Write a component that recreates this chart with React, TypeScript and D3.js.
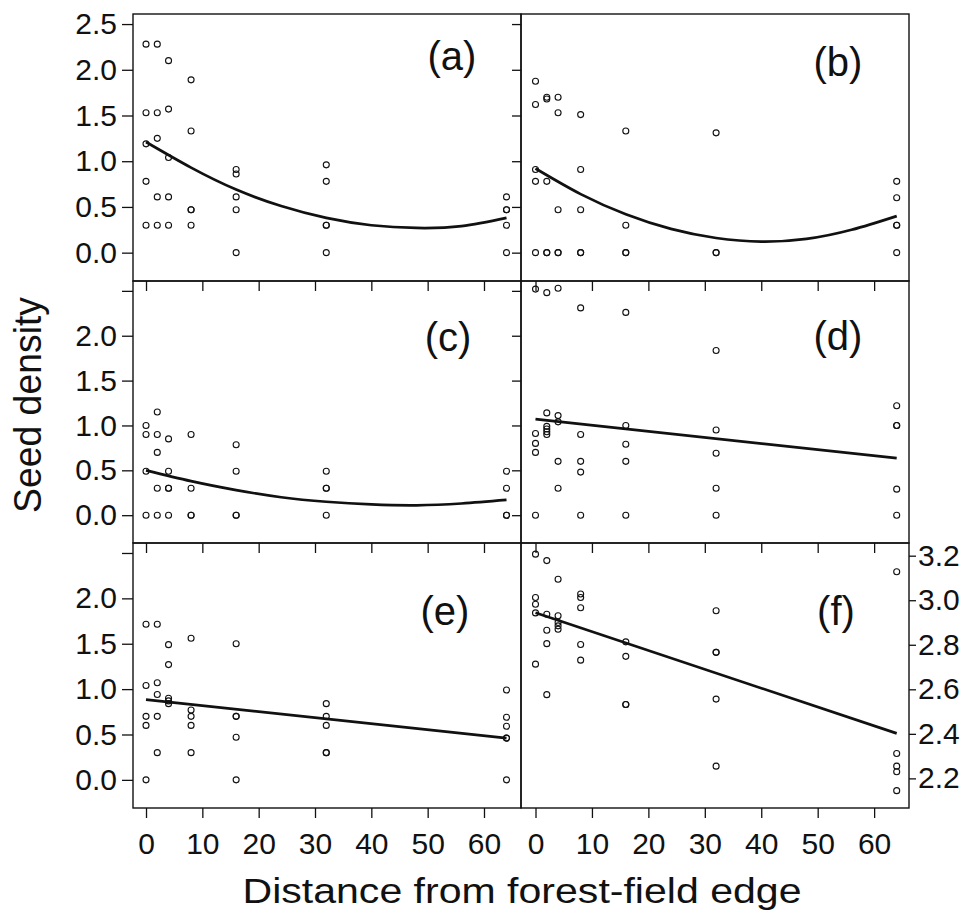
import React, { useEffect, useRef } from "react";
import * as d3 from "d3";

// distance (m) vs seed density
const ptsA: [number, number][] = [
  [0, 2.28], [0, 1.53], [0, 1.19], [0, 0.78], [0, 0.3],
  [2, 2.28], [2, 1.53], [2, 1.25], [2, 0.61], [2, 0.3],
  [4, 2.1], [4, 1.57], [4, 1.04], [4, 0.61], [4, 0.3],
  [8, 1.89], [8, 1.33], [8, 0.47], [8, 0.47], [8, 0.3],
  [16, 0.91], [16, 0.86], [16, 0.61], [16, 0.47], [16, 0],
  [32, 0.96], [32, 0.78], [32, 0.3], [32, 0.3], [32, 0],
  [64, 0.61], [64, 0.47], [64, 0.47], [64, 0.3], [64, 0],
];
const ptsB: [number, number][] = [
  [0, 1.875], [0, 1.62], [0, 0.91], [0, 0.78], [0, 0],
  [2, 1.7], [2, 1.68], [2, 0.78], [2, 0], [2, 0],
  [4, 1.7], [4, 1.53], [4, 0.47], [4, 0], [4, 0],
  [8, 1.51], [8, 0.91], [8, 0.47], [8, 0], [8, 0],
  [16, 1.33], [16, 0.3], [16, 0], [16, 0],
  [32, 1.31], [32, 0], [32, 0],
  [64, 0.78], [64, 0.6], [64, 0.3], [64, 0.3], [64, 0],
];
const ptsC: [number, number][] = [
  [0, 1.0], [0, 0.9], [0, 0.49], [0, 0],
  [2, 1.15], [2, 0.9], [2, 0.7], [2, 0.3], [2, 0],
  [4, 0.85], [4, 0.49], [4, 0.3], [4, 0.3], [4, 0],
  [8, 0.9], [8, 0.3], [8, 0], [8, 0],
  [16, 0.785], [16, 0.49], [16, 0], [16, 0],
  [32, 0.49], [32, 0.3], [32, 0.3], [32, 0],
  [64, 0.49], [64, 0.3], [64, 0], [64, 0],
];
const ptsD: [number, number][] = [
  [0, 2.52], [0, 0.91], [0, 0.8], [0, 0.7], [0, 0],
  [2, 2.48], [2, 1.14], [2, 0.99], [2, 0.96], [2, 0.93], [2, 0.9],
  [4, 2.53], [4, 1.11], [4, 1.04], [4, 0.6], [4, 0.3],
  [8, 2.31], [8, 0.9], [8, 0.6], [8, 0.48], [8, 0],
  [16, 2.26], [16, 1.0], [16, 0.79], [16, 0.6], [16, 0],
  [32, 1.835], [32, 0.95], [32, 0.69], [32, 0.3], [32, 0],
  [64, 1.22], [64, 1.0], [64, 1.0], [64, 0.29], [64, 0],
];
const ptsE: [number, number][] = [
  [0, 1.715], [0, 1.04], [0, 0.7], [0, 0.6], [0, 0],
  [2, 1.715], [2, 1.07], [2, 0.94], [2, 0.7], [2, 0.3],
  [4, 1.49], [4, 1.27], [4, 0.9], [4, 0.87], [4, 0.84],
  [8, 1.56], [8, 0.77], [8, 0.7], [8, 0.6], [8, 0.3],
  [16, 1.5], [16, 0.7], [16, 0.7], [16, 0.47], [16, 0],
  [32, 0.84], [32, 0.7], [32, 0.6], [32, 0.3], [32, 0.3],
  [64, 0.99], [64, 0.69], [64, 0.59], [64, 0.46], [64, 0.46], [64, 0],
];
const ptsF: [number, number][] = [
  [0, 3.207], [0, 3.012], [0, 2.982], [0, 2.943], [0, 2.713],
  [2, 3.178], [2, 2.937], [2, 2.865], [2, 2.805], [2, 2.576],
  [4, 3.094], [4, 2.93], [4, 2.9], [4, 2.885], [4, 2.87],
  [8, 3.028], [8, 3.012], [8, 2.966], [8, 2.801], [8, 2.731],
  [16, 2.813], [16, 2.748], [16, 2.532], [16, 2.532],
  [32, 2.953], [32, 2.766], [32, 2.766], [32, 2.556], [32, 2.255],
  [64, 3.128], [64, 2.312], [64, 2.255], [64, 2.23], [64, 2.145],
];

// fitted curves, read at a few distances
const fitA: [number, number][] = [[0, 1.21], [8, 0.93], [16, 0.69], [24, 0.51], [32, 0.38], [40, 0.3], [48, 0.27], [56, 0.29], [64, 0.38]];
const fitB: [number, number][] = [[0, 0.92], [8, 0.64], [16, 0.42], [24, 0.26], [32, 0.16], [40, 0.12], [48, 0.15], [56, 0.25], [64, 0.4]];
const fitC: [number, number][] = [[0, 0.5], [8, 0.38], [16, 0.28], [24, 0.2], [32, 0.15], [40, 0.12], [48, 0.11], [56, 0.13], [64, 0.17]];
const fitD: [number, number][] = [[0, 1.07], [64, 0.635]];
const fitE: [number, number][] = [[0, 0.885], [64, 0.46]];
const fitF: [number, number][] = [[0, 2.944], [64, 2.402]];

const xTicks = [0, 10, 20, 30, 40, 50, 60];
const yTicksFull = [0, 0.5, 1, 1.5, 2, 2.5];
const yLabelsTop = [0, 0.5, 1, 1.5, 2, 2.5];
const yLabelsLow = [0, 0.5, 1, 1.5, 2];
const yTicksF = [2.2, 2.4, 2.6, 2.8, 3.0, 3.2];

const font = "'Liberation Sans', Arial, Helvetica, sans-serif";

function App() {
  const ref = useRef<SVGSVGElement>(null);

  useEffect(() => {
    const svg = d3.select(ref.current);
    svg.selectAll("*").remove();

    const cols = [
      { x0: 133, x1: 521, dom: [-2.31, 66.57] },
      { x0: 521, x1: 909, dom: [-2.57, 66.18] },
    ];
    const rows = [
      { y0: 14, y1: 281 },
      { y0: 281, y1: 543 },
      { y0: 543, y1: 808 },
    ];

    const panels = [
      { pts: ptsA, fit: fitA, lab: "(a)", c: 0, r: 0, lx: 452, ly: 70, curved: true },
      { pts: ptsB, fit: fitB, lab: "(b)", c: 1, r: 0, lx: 838, ly: 76, curved: true },
      { pts: ptsC, fit: fitC, lab: "(c)", c: 0, r: 1, lx: 448, ly: 351, curved: true },
      { pts: ptsD, fit: fitD, lab: "(d)", c: 1, r: 1, lx: 838, ly: 350, curved: false },
      { pts: ptsE, fit: fitE, lab: "(e)", c: 0, r: 2, lx: 445, ly: 625, curved: false },
      { pts: ptsF, fit: fitF, lab: "(f)", c: 1, r: 2, lx: 836, ly: 625, curved: false },
    ];

    panels.forEach((p, idx) => {
      const col = cols[p.c];
      const row = rows[p.r];
      const x = d3.scaleLinear().domain(col.dom).range([col.x0, col.x1]);
      const yDom = idx === 5 ? [2.067, 3.257] : [-0.31, 2.61];
      const y = d3.scaleLinear().domain(yDom).range([row.y1, row.y0]);

      const g = svg.append("g");

      // y axis
      if (idx === 5) {
        const ax = d3.axisRight(y).tickValues(yTicksF).tickSize(7).tickPadding(2)
          .tickFormat(d3.format(".1f"));
        g.append("g").attr("transform", `translate(${col.x1},0)`).call(ax);
      } else if (p.c === 0) {
        const labs = p.r === 0 ? yLabelsTop : yLabelsLow;
        const ax = d3.axisLeft(y).tickValues(yTicksFull).tickSize(11).tickPadding(5)
          .tickFormat((d) => (labs.includes(d as number) ? d3.format(".1f")(d as number) : ""));
        g.append("g").attr("transform", `translate(${col.x0},0)`).call(ax);
      } else {
        const ax = d3.axisLeft(y).tickValues(yTicksFull).tickSize(9).tickFormat(() => "");
        g.append("g").attr("transform", `translate(${col.x0},0)`).call(ax);
      }

      // x ticks: inner ones hang down from the row's top edge, last row gets labels
      if (p.r > 0) {
        const ax = d3.axisBottom(x).tickValues(xTicks).tickSize(10).tickFormat(() => "");
        g.append("g").attr("transform", `translate(0,${row.y0})`).call(ax);
      }
      if (p.r === 2) {
        const ax = d3.axisBottom(x).tickValues(xTicks).tickSize(10).tickPadding(15);
        g.append("g").attr("transform", `translate(0,${row.y1})`).call(ax);
      }

      g.selectAll(".domain").remove();
      g.selectAll(".tick line").attr("stroke", "#111").attr("stroke-width", 1.3);
      g.selectAll(".tick text")
        .attr("fill", "#111")
        .style("font-family", font)
        .style("font-size", "30px");

      g.append("rect")
        .attr("x", col.x0).attr("y", row.y0)
        .attr("width", col.x1 - col.x0).attr("height", row.y1 - row.y0)
        .attr("fill", "none").attr("stroke", "#111").attr("stroke-width", 1.4);

      const line = d3.line<[number, number]>()
        .x((d) => x(d[0]))
        .y((d) => y(d[1]))
        .curve(p.curved ? d3.curveNatural : d3.curveLinear);
      g.append("path")
        .attr("d", line(p.fit))
        .attr("fill", "none")
        .attr("stroke", "#111")
        .attr("stroke-width", 2.7);

      g.selectAll("circle.pt")
        .data(p.pts)
        .join("circle")
        .attr("class", "pt")
        .attr("cx", (d) => x(d[0]))
        .attr("cy", (d) => y(d[1]))
        .attr("r", 3)
        .attr("fill", "none")
        .attr("stroke", "#111")
        .attr("stroke-width", 1.1);

      g.append("text")
        .attr("x", p.lx).attr("y", p.ly)
        .attr("text-anchor", "middle")
        .style("font-family", font)
        .style("font-size", "40px")
        .attr("fill", "#111")
        .text(p.lab);
    });

    svg.append("text")
      .attr("x", 522).attr("y", 903)
      .attr("text-anchor", "middle")
      .attr("textLength", 559)
      .attr("lengthAdjust", "spacingAndGlyphs")
      .style("font-family", font)
      .style("font-size", "35px")
      .attr("fill", "#111")
      .text("Distance from forest-field edge");

    svg.append("text")
      .attr("transform", "translate(41,405) rotate(-90)")
      .attr("text-anchor", "middle")
      .attr("textLength", 216)
      .attr("lengthAdjust", "spacingAndGlyphs")
      .style("font-family", font)
      .style("font-size", "39px")
      .attr("fill", "#111")
      .text("Seed density");
  }, []);

  return (
    <svg
      ref={ref}
      width={972}
      height={912}
      style={{ position: "absolute", left: 0, top: 0, background: "#fff" }}
    />
  );
}

export default App;
